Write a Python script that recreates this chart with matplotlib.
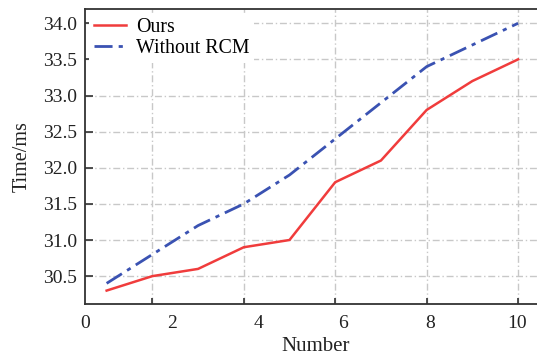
import matplotlib.pyplot as plt
import numpy as np

plt.rcParams['font.family'] = ['Liberation Serif', 'DejaVu Serif']

numbers = [1, 2, 3, 4, 5, 6, 7, 8, 9, 10]
ours = [30.3, 30.5, 30.6, 30.9, 31.0, 31.8, 32.1, 32.8, 33.2, 33.5]
without_rcm = [30.4, 30.8, 31.2, 31.5, 31.9, 32.4, 32.9, 33.4, 33.7, 34.0]

x_ticks = [2, 4, 6, 8, 10]
x_labels = ['0', '2', '4', '6', '8', '10']
# the labels in the original figure do not sit on the tick marks
x_label_pos = [0.535, 2.44, 4.32, 6.17, 8.08, 9.98]
y_ticks = [30.5, 31.0, 31.5, 32.0, 32.5, 33.0, 33.5, 34.0]

fig = plt.figure(figsize=(5.37, 3.58), dpi=100)
ax = fig.add_axes([0.159, 0.152, 1.015 - 0.159, 0.975 - 0.152])

ax.plot(numbers, ours, color='#f03c3c', lw=1.8, label='Ours')
ax.plot(numbers, without_rcm, color='#3a52b2', lw=2.0, ls=(0, (6.5, 2.2, 1.5, 2.2)),
        label='Without RCM')

ax.set_xlim(0.546, 10.59)
ax.set_ylim(30.12, 34.198)

ax.set_xticks(x_ticks)
ax.set_xticklabels([])
ax.set_xticks(x_label_pos, minor=True)
ax.set_xticklabels(x_labels, minor=True)
ax.tick_params(axis='x', which='minor', length=0, pad=8, labelsize=14, colors='#222222')
ax.tick_params(axis='x', which='major', direction='in', length=4, width=1.2, color='#333333')

ax.set_yticks(y_ticks)
ax.set_yticklabels([f'{v:.1f}' for v in y_ticks])
ax.tick_params(axis='y', direction='in', length=6, width=1.2, color='#333333',
               labelsize=14, labelcolor='#222222', pad=6)

ax.grid(True, which='major', color='#c8c8c8', lw=1.0, ls=(0, (5, 2, 1, 2)))

for s in ax.spines.values():
    s.set_color('#333333')
    s.set_linewidth(1.3)

ax.set_xlabel('Number', fontsize=15, color='#222222', labelpad=4)
ax.set_ylabel('Time/ms', fontsize=14.5, color='#222222', labelpad=8)

leg = ax.legend(loc='upper left', fontsize=14.3, frameon=True, framealpha=1,
                edgecolor='white', fancybox=False, handlelength=1.6,
                borderaxespad=0.2, borderpad=0.25, labelspacing=0.1, handletextpad=0.5)
leg.get_frame().set_linewidth(0)

fig.savefig('out.png', dpi=100)
